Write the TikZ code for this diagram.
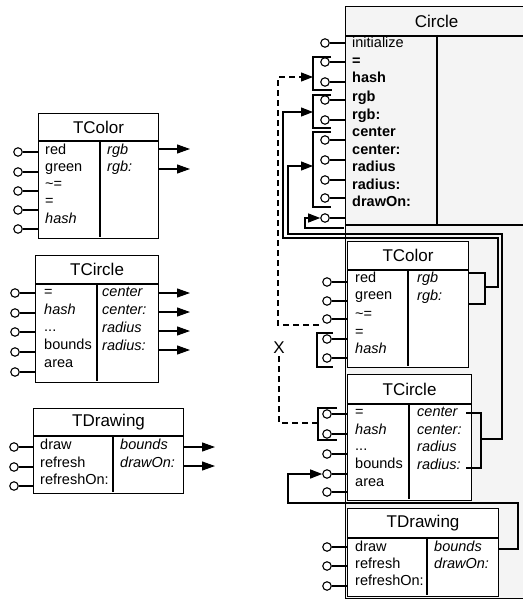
\documentclass[tikz,border=0pt]{standalone}
\usepackage{fontspec}
\setmainfont{Liberation Sans}
\usetikzlibrary{arrows.meta,positioning}
\definecolor{fondo}{RGB}{244,244,244}
\tikzset{
  hdr/.style={draw, anchor=north west, inner sep=0pt, line width=1.1pt, font=\fontsize{17}{20}\selectfont},
  bdy/.style={draw, anchor=north west, inner sep=0pt, line width=1.1pt},
  itm/.style={anchor=west, inner sep=0pt, text height=10pt, text depth=3pt, font=\fontsize{14.5}{16}\selectfont},
  port/.style={circle, draw, fill=white, line width=1.1pt, minimum size=8.5pt, inner sep=0pt},
  ln/.style={line width=1.1pt},
  req/.style={-{Triangle[length=13pt,width=9pt]}, line width=1.1pt},
  fl/.style={-{Triangle[length=12pt,width=9pt]}, line width=1.1pt},
  dsh/.style={dashed, dash pattern=on 6pt off 4pt},
}

\begin{document}
\begin{tikzpicture}[x=1pt, y=-1pt]
  \useasboundingbox (0,0) rectangle (522,599);

  % --- trait TColor (left)
  \node[hdr, minimum width=120pt, minimum height=27pt] (tcol) at (38,113) {TColor};
  \node[bdy, minimum width=120pt, minimum height=97pt] (tcol-b) at (tcol.south west) {};
  \draw[ln] (100,140) -- (100,237);
  \node[itm] (tcol-l1) at (45,151) {red};
  \node[itm] (tcol-l2) at (45,168) {green};
  \node[itm] (tcol-l3) at (45,185) {\textasciitilde=};
  \node[itm] (tcol-l4) at (45,202) {=};
  \node[itm] (tcol-l5) at (45,220) {\textit{hash}};
  \node[itm] (tcol-r1) at (107,151) {\textit{rgb}};
  \node[itm] (tcol-r2) at (107,168) {\textit{rgb:}};
  \foreach \y [count=\i] in {152,172,191,210,229} {
    \node[port] (tcol-p\i) at (18,\y) {};
    \draw[ln] (tcol-p\i) -- (tcol-p\i -| tcol-b.west);
  }
  \coordinate (tcol-o1) at (190,149);
  \coordinate (tcol-o2) at (190,169);
  \draw[req] (tcol-o1 -| tcol-b.east) -- (tcol-o1);
  \draw[req] (tcol-o2 -| tcol-b.east) -- (tcol-o2);

  % --- trait TCircle (left)
  \node[hdr, minimum width=123pt, minimum height=28pt] (tcir) at (35,255) {TCircle};
  \node[bdy, minimum width=123pt, minimum height=98pt] (tcir-b) at (tcir.south west) {};
  \draw[ln] (97,283) -- (97,381);
  \node[itm] (tcir-l1) at (44,293) {=};
  \node[itm] (tcir-l2) at (44,311) {\textit{hash}};
  \node[itm] (tcir-l3) at (44,328) {...};
  \node[itm] (tcir-l4) at (44,346) {bounds};
  \node[itm] (tcir-l5) at (44,364) {area};
  \node[itm] (tcir-r1) at (102,293) {\textit{center}};
  \node[itm] (tcir-r2) at (102,311) {\textit{center:}};
  \node[itm] (tcir-r3) at (102,329) {\textit{radius}};
  \node[itm] (tcir-r4) at (102,347) {\textit{radius:}};
  \foreach \y [count=\i] in {293,313,332,352,372} {
    \node[port] (tcir-p\i) at (15,\y) {};
    \draw[ln] (tcir-p\i) -- (tcir-p\i -| tcir-b.west);
  }
  \foreach \y [count=\i] in {293,312,331,350} {
    \coordinate (tcir-o\i) at (190,\y);
    \draw[req] (tcir-o\i -| tcir-b.east) -- (tcir-o\i);
  }

  % --- trait TDrawing (left)
  \node[hdr, minimum width=150pt, minimum height=27pt] (tdra) at (33,408) {TDrawing};
  \node[bdy, minimum width=150pt, minimum height=57pt] (tdra-b) at (tdra.south west) {};
  \draw[ln] (113,435) -- (113,492);
  \node[itm] (tdra-l1) at (40,446) {draw};
  \node[itm] (tdra-l2) at (40,464) {refresh};
  \node[itm] (tdra-l3) at (40,481) {refreshOn:};
  \node[itm] (tdra-r1) at (120,446) {\textit{bounds}};
  \node[itm] (tdra-r2) at (120,464) {\textit{drawOn:}};
  \foreach \y [count=\i] in {447,467,486} {
    \node[port] (tdra-p\i) at (14,\y) {};
    \draw[ln] (tdra-p\i) -- (tdra-p\i -| tdra-b.west);
  }
  \coordinate (tdra-o1) at (215,447);
  \coordinate (tdra-o2) at (215,466);
  \draw[req] (tdra-o1 -| tdra-b.east) -- (tdra-o1);
  \draw[req] (tdra-o2 -| tdra-b.east) -- (tdra-o2);

  % --- class Circle
  \node[hdr, fill=fondo, minimum width=182pt, minimum height=29pt] (circ) at (345,6) {Circle};
  \node[bdy, fill=fondo, minimum width=182pt, minimum height=562pt] (circ-b) at (circ.south west) {};
  \draw[ln] (437,35) -- (437,225);
  \draw[ln] (345,225) -- (527,225);
  \node[itm] (circ-l1) at (352,44) {initialize};
  \node[itm] (circ-l2) at (352,62) {\textbf{=}};
  \node[itm] (circ-l3) at (352,79) {\textbf{hash}};
  \node[itm] (circ-l4) at (352,98) {\textbf{rgb}};
  \node[itm] (circ-l5) at (352,116) {\textbf{rgb:}};
  \node[itm] (circ-l6) at (352,133) {\textbf{center}};
  \node[itm] (circ-l7) at (352,151) {\textbf{center:}};
  \node[itm] (circ-l8) at (352,168) {\textbf{radius}};
  \node[itm] (circ-l9) at (352,186) {\textbf{radius:}};
  \node[itm] (circ-l10) at (352,203) {\textbf{drawOn:}};
  \foreach \y [count=\i] in {43,62,82,100,120,140,160,180,198,218} {
    \node[port] (cp\i) at (325,\y) {};
    \draw[ln] (cp\i) -- (cp\i -| circ-b.west);
  }
  % brackets on the class
  \draw[ln] (331,57) -- (313,57) -- (313,90) -- (332,90);
  \draw[ln] (331,95) -- (313,95) -- (313,128) -- (331,128);
  \draw[ln] (331,132) -- (313,132) -- (313,207) -- (331,207);
  \coordinate (cb1) at (313,77);
  \coordinate (cb2) at (313,112);
  \coordinate (cb3) at (313,166);

  % --- TColor inside Circle
  \node[hdr, fill=white, minimum width=121pt, minimum height=28pt] (ctcol) at (347,241) {TColor};
  \node[bdy, fill=white, minimum width=121pt, minimum height=97pt] (ctcol-b) at (ctcol.south west) {};
  \draw[ln] (408,269) -- (408,366);
  \node[itm] (ctcol-l1) at (355,279) {red};
  \node[itm] (ctcol-l2) at (355,296) {green};
  \node[itm] (ctcol-l3) at (355,315) {\textasciitilde=};
  \node[itm] (ctcol-l4) at (355,333) {=};
  \node[itm] (ctcol-l5) at (355,350) {\textit{hash}};
  \node[itm] (ctcol-r1) at (417,279) {\textit{rgb}};
  \node[itm] (ctcol-r2) at (417,297) {\textit{rgb:}};
  \foreach \y [count=\i] in {282,301,319,339,358} {
    \node[port] (ctcol-p\i) at (327,\y) {};
    \draw[ln] (ctcol-p\i) -- (ctcol-p\i -| ctcol-b.west);
  }
  \draw[ln] (333,333) -- (317,333) -- (317,367) -- (333,367);
  \draw[ln] (468,273) -- (485,273) -- (485,304) -- (468,304);
  \coordinate (ctcol-o) at (485,287);

  % --- TCircle inside Circle
  \node[hdr, fill=white, minimum width=124pt, minimum height=29pt] (ctcir) at (347,374) {TCircle};
  \node[bdy, fill=white, minimum width=124pt, minimum height=96pt] (ctcir-b) at (ctcir.south west) {};
  \draw[ln] (409,403) -- (409,499);
  \node[itm] (ctcir-l1) at (355,413) {=};
  \node[itm] (ctcir-l2) at (355,431) {\textit{hash}};
  \node[itm] (ctcir-l3) at (355,447) {...};
  \node[itm] (ctcir-l4) at (355,465) {bounds};
  \node[itm] (ctcir-l5) at (355,483) {area};
  \node[itm] (ctcir-r1) at (417,413) {\textit{center}};
  \node[itm] (ctcir-r2) at (417,431) {\textit{center:}};
  \node[itm] (ctcir-r3) at (417,448) {\textit{radius}};
  \node[itm] (ctcir-r4) at (417,466) {\textit{radius:}};
  \foreach \y [count=\i] in {414,434,454,474,492} {
    \node[port] (ctcir-p\i) at (327,\y) {};
    \draw[ln] (ctcir-p\i) -- (ctcir-p\i -| ctcir-b.west);
  }
  \draw[ln] (337,408) -- (318,408) -- (318,440) -- (337,440);
  \draw[ln] (466,413) -- (481,413) -- (481,468) -- (466,468);
  \coordinate (ctcir-lb) at (318,423);
  \coordinate (ctcir-o) at (481,439);

  % --- TDrawing inside Circle
  \node[hdr, fill=white, minimum width=151pt, minimum height=29pt] (ctdra) at (347,508) {TDrawing};
  \node[bdy, fill=white, minimum width=151pt, minimum height=58pt] (ctdra-b) at (ctdra.south west) {};
  \draw[ln] (427,537) -- (427,595);
  \node[itm] (ctdra-l1) at (355,548) {draw};
  \node[itm] (ctdra-l2) at (355,565) {refresh};
  \node[itm] (ctdra-l3) at (355,582) {refreshOn:};
  \node[itm] (ctdra-r1) at (434,548) {\textit{bounds}};
  \node[itm] (ctdra-r2) at (434,565) {\textit{drawOn:}};
  \foreach \y [count=\i] in {547,566,586} {
    \node[port] (ctdra-p\i) at (327,\y) {};
    \draw[ln] (ctdra-p\i) -- (ctdra-p\i -| ctdra-b.west);
  }
  \coordinate (ctdra-o) at (498,549);

  % --- wiring
  \draw[fl] (ctcol-o) -- ++(13,0) |- (283,238) |- (cb2);
  \draw[fl] (ctcir-o) -- ++(21,0) |- (288,234) |- (cb3);
  \draw[fl] (ctdra-o) -- ++(20,0) |- (288,503) |- (ctcir-p4);
  \coordinate (cloop) at (344,228);
  \draw[fl] (cloop) -| (305,218) -- (cp10);
  \coordinate (xa) at (319,325);
  \draw[fl, dsh] (xa) -- ++(-41,0) |- (cb1);
  \node[inner sep=0pt, font=\fontsize{17}{18}\selectfont] (xx) at (279,348) {X};
  \draw[ln, dsh] (ctcir-lb) -| (xx.south);
\end{tikzpicture}
\end{document}
